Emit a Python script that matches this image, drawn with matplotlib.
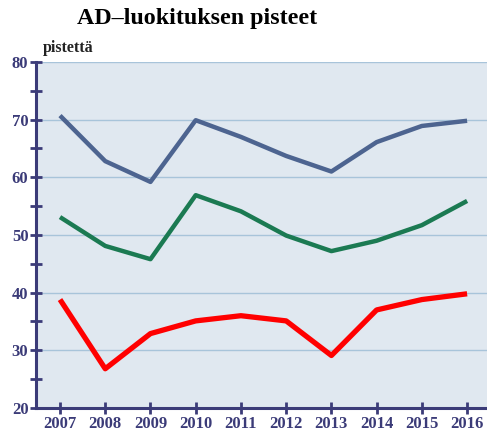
import matplotlib.pyplot as plt
from matplotlib.ticker import MultipleLocator

vuodet = [2007, 2008, 2009, 2010, 2011, 2012, 2013, 2014, 2015, 2016]
sarja_sininen = [70.7, 62.8, 59.2, 69.9, 67.0, 63.7, 61.0, 66.1, 68.9, 69.8]
sarja_vihrea = [53.1, 48.1, 45.8, 56.9, 54.1, 49.9, 47.2, 49.0, 51.7, 55.9]
sarja_punainen = [38.8, 26.8, 32.9, 35.1, 36.0, 35.1, 29.1, 37.0, 38.8, 39.8]

navy = "#3b3b78"
plt.rcParams['font.family'] = ['Liberation Serif', 'DejaVu Serif']

fig = plt.figure(figsize=(4.87, 4.32), dpi=100)
ax = fig.add_axes([0.074, 0.0556, 0.926, 0.801])
ax.set_facecolor("#e0e8f0")

ax.plot(vuodet, sarja_sininen, color="#4d6490", lw=3.2, solid_capstyle="butt")
ax.plot(vuodet, sarja_vihrea, color="#1b7a52", lw=3.2, solid_capstyle="butt")
ax.plot(vuodet, sarja_punainen, color="#ff0000", lw=3.8, solid_capstyle="butt")

ax.set_xlim(2006.47, 2016.44)
ax.set_ylim(20, 80)
ax.set_xticks(vuodet)
ax.yaxis.set_major_locator(MultipleLocator(10))
ax.yaxis.set_minor_locator(MultipleLocator(5))
ax.grid(axis="y", which="major", color="#a8c4da", lw=1)
ax.set_axisbelow(True)

for s in ["top", "right"]:
    ax.spines[s].set_visible(False)
for s in ["left", "bottom"]:
    ax.spines[s].set_color(navy)
    ax.spines[s].set_linewidth(2.2)

ax.tick_params(axis="both", which="both", direction="inout", color=navy, width=2, length=9,
               labelcolor=navy, labelsize=12)
ax.tick_params(axis="y", pad=1)
ax.tick_params(axis="x", pad=1)
for lab in ax.get_xticklabels() + ax.get_yticklabels():
    lab.set_fontweight("bold")

fig.text(0.404, 0.957, "AD\u2013luokituksen pisteet", ha="center", va="center",
         fontsize=17.3, fontweight="bold", color="black")
fig.text(0.087, 0.889, "pistettä", ha="left", va="center",
         fontsize=11.5, fontweight="bold", color="#222222")

fig.savefig("out.png", dpi=100)
